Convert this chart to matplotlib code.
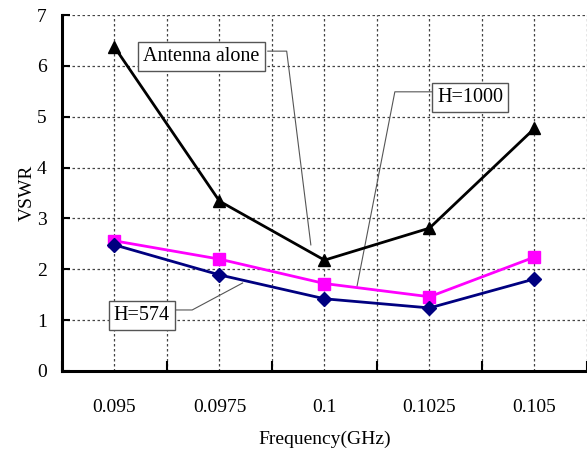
import matplotlib
matplotlib.use('Agg')
import matplotlib.pyplot as plt

# data
freqs = ['0.095', '0.0975', '0.1', '0.1025', '0.105']
antenna_alone = [6.37, 3.34, 2.18, 2.81, 4.77]
h_1000 = [2.56, 2.20, 1.72, 1.46, 2.24]
h_574 = [2.48, 1.89, 1.42, 1.24, 1.81]

plt.rcParams['font.family'] = ['Liberation Serif', 'DejaVu Serif']

fig = plt.figure(figsize=(5.87, 4.57), dpi=100)
ax = fig.add_axes([0.1056, 0.1882, 0.8944, 0.7789])

x = list(range(len(freqs)))
ax.plot(x, antenna_alone, color='black', lw=2, marker='^', ms=9, zorder=4)
ax.plot(x, h_1000, color='#ff00ff', lw=2, marker='s', ms=8, zorder=4)
ax.plot(x, h_574, color='#000080', lw=2, marker='D', ms=7, zorder=4)

ax.set_xlim(-0.5, 4.5)
ax.set_ylim(0, 7)
ax.set_yticks(range(0, 8))
ax.set_xticks(x)
ax.set_xticklabels(freqs)
ax.set_xticks([i + 0.5 for i in range(-1, 5)], minor=True)

# dotted grid at categories and between them
for gx in [i * 0.5 for i in range(0, 10)]:
    ax.axvline(gx, color='#444444', ls=(0, (2, 2)), lw=0.9, zorder=1)
for gy in range(1, 8):
    ax.axhline(gy, color='#444444', ls=(0, (2, 2)), lw=0.9, zorder=1)

ax.tick_params(axis='x', which='major', length=0, pad=20, labelsize=14)
ax.tick_params(axis='x', which='minor', direction='in', length=7, width=1.5)
ax.tick_params(axis='y', direction='in', length=6, width=1.5, labelsize=14, pad=11)
for s in ['top', 'right']:
    ax.spines[s].set_visible(False)
for s in ['left', 'bottom']:
    ax.spines[s].set_linewidth(2.2)

ax.set_xlabel('Frequency(GHz)', fontsize=14, labelpad=11)
ax.set_ylabel('VSWR', fontsize=14, labelpad=1)

# callout labels with leader lines
box = dict(boxstyle='square,pad=0.25', fc='white', ec='#555555', lw=1)
callouts = [
    ('Antenna alone', (0.83, 6.18), [1.46, 1.64, 1.87], [6.29, 6.29, 2.48]),
    ('H=1000', (3.39, 5.38), [3.04, 2.67, 2.31], [5.49, 5.49, 1.67]),
    ('H=574', (0.26, 1.09), [0.57, 0.74, 1.22], [1.20, 1.20, 1.73]),
]
for label, pos, lx, ly in callouts:
    ax.plot(lx, ly, color='#555555', lw=0.8, zorder=3)
    ax.text(pos[0], pos[1], label, fontsize=14.5, ha='center', va='center',
            bbox=box, zorder=5)

fig.savefig('out.png', dpi=100)
